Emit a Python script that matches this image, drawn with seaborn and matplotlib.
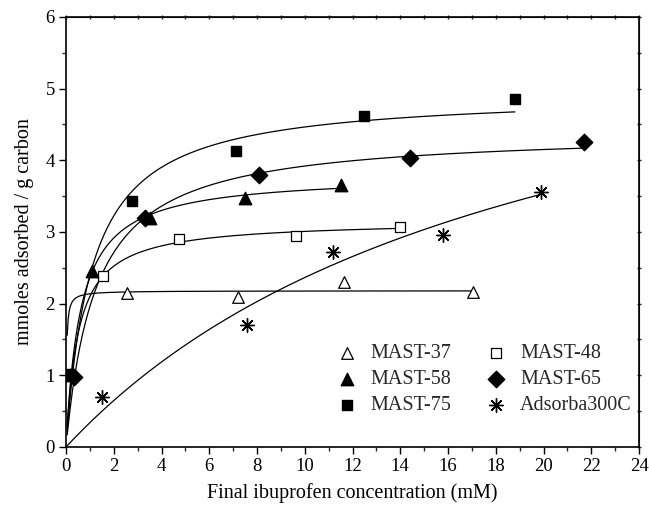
import numpy as np
import pandas as pd
import matplotlib
matplotlib.use('Agg')
import matplotlib.pyplot as plt
from matplotlib.ticker import MultipleLocator
import seaborn as sns

names = ['MAST-37', 'MAST-48', 'MAST-58', 'MAST-65', 'MAST-75', 'Adsorba300C']
conc = [
    [2.55, 7.2, 11.65, 17.05],
    [1.55, 4.73, 9.62, 14.0],
    [0.15, 1.1, 3.5, 7.5, 11.5],
    [0.35, 3.3, 8.1, 14.4, 21.7],
    [0.08, 2.78, 7.1, 12.5, 18.8],
    [1.5, 7.6, 11.2, 15.8, 19.9],
]
adsorbed = [
    [2.15, 2.09, 2.30, 2.16],
    [2.38, 2.90, 2.94, 3.07],
    [1.00, 2.45, 3.20, 3.48, 3.66],
    [0.97, 3.20, 3.80, 4.03, 4.25],
    [1.02, 3.43, 4.13, 4.62, 4.85],
    [0.70, 1.70, 2.72, 2.96, 3.56],
]
# Langmuir fit parameters (qmax, K) estimated from the drawn curves
qmax = [2.18, 3.16, 3.80, 4.41, 4.94, 7.0]
kL = [50.0, 1.98, 1.65, 0.80, 0.94, 0.051]

markers = ['^', 's', '^', 'D', 's', (8, 2, 0)]
filled = [False, False, True, True, True, True]
msize = [70, 48, 80, 70, 58, 95]

sns.set_style('ticks')
plt.rcParams['font.family'] = ['Liberation Serif', 'DejaVu Serif']

fig = plt.figure(figsize=(6.49, 5.14), dpi=100)
ax = fig.add_axes([0.1017, 0.1304, 0.8829, 0.8366])

for i, name in enumerate(names):
    xs = np.linspace(0.05, max(conc[i]), 400)
    fit = pd.DataFrame({'c': xs, 'q': qmax[i] * kL[i] * xs / (1 + kL[i] * xs)})
    sns.lineplot(data=fit, x='c', y='q', ax=ax, color='black', linewidth=0.9,
                 sort=False, estimator=None, legend=False)

for i, name in enumerate(names):
    pts = pd.DataFrame({'c': conc[i], 'q': adsorbed[i]})
    fc = 'black' if filled[i] else 'white'
    lw = 0.9 if not filled[i] else 1.0
    sns.scatterplot(data=pts, x='c', y='q', ax=ax, marker=markers[i], s=msize[i],
                    color=fc, edgecolor='black', linewidth=lw,
                    label=name, zorder=3)

ax.set_xlim(0, 24)
ax.set_ylim(0, 6)
ax.xaxis.set_major_locator(MultipleLocator(2))
ax.xaxis.set_minor_locator(MultipleLocator(1))
ax.yaxis.set_major_locator(MultipleLocator(1))
ax.yaxis.set_minor_locator(MultipleLocator(0.5))
ax.tick_params(which='major', direction='out', length=5, width=1.0, labelsize=13.5,
               colors='black', pad=3)
ax.tick_params(which='minor', direction='out', length=3, width=1.0)
for sp in ax.spines.values():
    sp.set_visible(True)
    sp.set_linewidth(1.2)
    sp.set_color('black')

# small mirrored ticks on top and right edges
top = ax.secondary_xaxis('top')
top.xaxis.set_major_locator(MultipleLocator(1))
top.tick_params(which='major', direction='inout', length=2.5, width=1.0, labeltop=False)
right = ax.secondary_yaxis('right')
right.yaxis.set_major_locator(MultipleLocator(0.5))
right.tick_params(which='major', direction='inout', length=2.5, width=1.0, labelright=False)

ax.set_xlabel('Final ibuprofen concentration (mM)', fontsize=14.5, labelpad=6, color='black')
ax.set_ylabel('mmoles adsorbed / g carbon', fontsize=14.5, labelpad=8, color='black')

handles, labels = ax.get_legend_handles_labels()
order = [0, 2, 4, 1, 3, 5]
ax.legend([handles[j] for j in order], [labels[j] for j in order], ncol=2,
          loc='lower right', bbox_to_anchor=(1.005, 0.05), frameon=False,
          fontsize=14.5, handletextpad=0.6, columnspacing=1.6, labelspacing=0.35,
          borderpad=0, handlelength=1.2)

fig.savefig('out.png', dpi=100)
